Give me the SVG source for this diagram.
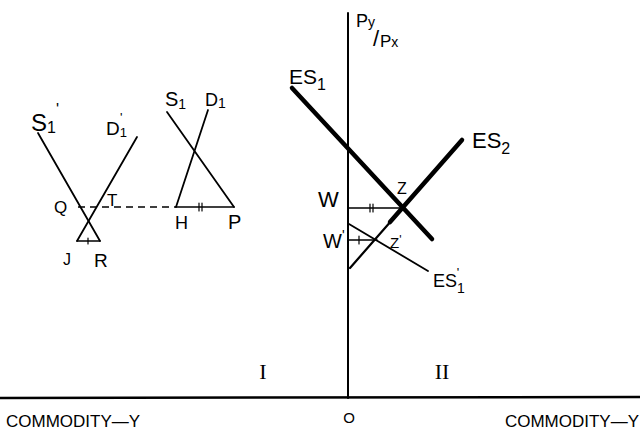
<svg xmlns="http://www.w3.org/2000/svg" width="640" height="437" viewBox="0 0 640 437">
<style>
.t{font-family:"Liberation Sans","DejaVu Sans",sans-serif;fill:#000}
.hw{font-family:"Liberation Sans","DejaVu Sans",sans-serif;fill:#000}
.ln{stroke:#000;stroke-width:1.8;fill:none;stroke-linecap:round}
.thick{stroke:#000;stroke-width:4.5;fill:none;stroke-linecap:round}
.dash{stroke:#000;stroke-width:1.5;fill:none;stroke-dasharray:7 5}
.rn{font-family:"Liberation Serif","DejaVu Serif",serif;font-size:22px;fill:#000}
</style>
<rect width="640" height="437" fill="#fff"/>
<g id="connectors">
  <line class="ln" x1="348" y1="13" x2="348" y2="398" style="stroke-width:2"/>
  <line class="ln" x1="0" y1="398" x2="640" y2="397" style="stroke-width:2.5"/>
  <line class="ln" x1="38" y1="133" x2="100" y2="241"/>
  <line class="ln" x1="137" y1="137" x2="77" y2="241"/>
  <line class="ln" x1="77" y1="241" x2="100" y2="241" style="stroke-width:1.5"/>
  <line class="ln" x1="88" y1="238" x2="88" y2="244" style="stroke-width:1.2"/>
  <line class="dash" x1="78" y1="207" x2="176" y2="207"/>
  <line class="ln" x1="176" y1="207" x2="234" y2="207" style="stroke-width:1.5"/>
  <line class="ln" x1="199" y1="203" x2="199" y2="211" style="stroke-width:1.2"/>
  <line class="ln" x1="202" y1="203" x2="202" y2="211" style="stroke-width:1.2"/>
  <line class="ln" x1="167" y1="112" x2="234" y2="207"/>
  <line class="ln" x1="208" y1="110" x2="176" y2="207"/>
  <line class="thick" x1="292" y1="88" x2="432" y2="239"/>
  <line class="thick" x1="462" y1="140" x2="390" y2="222"/>
  <line class="ln" x1="392" y1="220" x2="350" y2="268" style="stroke-width:2.2"/>
  <line class="ln" x1="348" y1="208" x2="402" y2="208" style="stroke-width:1.5"/>
  <line class="ln" x1="370" y1="204" x2="370" y2="212" style="stroke-width:1.2"/>
  <line class="ln" x1="373" y1="204" x2="373" y2="212" style="stroke-width:1.2"/>
  <line class="ln" x1="349" y1="224" x2="428" y2="271"/>
  <line class="ln" x1="348" y1="240" x2="377" y2="240" style="stroke-width:1.5"/>
  <line class="ln" x1="359" y1="236" x2="359" y2="244" style="stroke-width:1.2"/>
</g>
<g id="labels-left">
  <text class="hw" x="31" y="131" style="font-size:24px">S<tspan dy="2" style="font-size:16px">1</tspan><tspan dy="-18" style="font-size:16px">'</tspan></text>
  <text class="hw" x="106" y="135" style="font-size:19px">D<tspan dy="2" style="font-size:13px">1</tspan><tspan dx="-7" dy="-15" style="font-size:13px">'</tspan></text>
  <text class="hw" x="165" y="106" style="font-size:20px">S<tspan dy="3" style="font-size:14px">1</tspan></text>
  <text class="hw" x="205" y="106" style="font-size:18px">D<tspan dy="2" style="font-size:14px">1</tspan></text>
  <text class="hw" x="54" y="213" style="font-size:17px">Q</text>
  <text class="hw" x="107" y="206" style="font-size:17px">T</text>
  <text class="hw" x="175" y="229" style="font-size:18px">H</text>
  <text class="hw" x="228" y="229" style="font-size:20px">P</text>
  <text class="hw" x="63" y="265" style="font-size:16px">J</text>
  <text class="hw" x="94" y="267" style="font-size:19px">R</text>
</g>
<g id="labels-right">
  <text class="hw" x="356" y="27" style="font-size:18px">P<tspan style="font-size:14px">y</tspan></text>
  <text class="hw" x="373" y="46" style="font-size:22px">/</text>
  <text class="hw" x="380" y="47" style="font-size:17px">P<tspan style="font-size:14px">x</tspan></text>
  <text class="hw" x="289" y="84" style="font-size:21px">ES<tspan dy="6" style="font-size:16px">1</tspan></text>
  <text class="hw" x="472" y="148" style="font-size:22px">ES<tspan dy="6" style="font-size:16px">2</tspan></text>
  <text class="hw" x="397" y="194" style="font-size:16px">Z</text>
  <text class="hw" x="318" y="207" style="font-size:22px">W</text>
  <text class="hw" x="323" y="248" style="font-size:20px">W<tspan dy="-8" style="font-size:14px">'</tspan></text>
  <text class="hw" x="390" y="248" style="font-size:15px">Z<tspan dy="-4" style="font-size:12px">'</tspan></text>
  <text class="hw" x="433" y="287" style="font-size:18px">ES<tspan dy="6" style="font-size:14px">1</tspan><tspan dx="-8" dy="-16" style="font-size:13px">'</tspan></text>
</g>
<g id="axis-labels">
  <text class="rn" x="263" y="379" text-anchor="middle">I</text>
  <text class="rn" x="442" y="379" text-anchor="middle">II</text>
  <text class="t" x="349" y="423" text-anchor="middle" style="font-size:15px">O</text>
  <text class="t" x="6" y="427" style="font-size:17px">COMMODITY—Y</text>
  <text class="t" x="639" y="427" text-anchor="end" style="font-size:17px">COMMODITY—Y</text>
</g>
</svg>
